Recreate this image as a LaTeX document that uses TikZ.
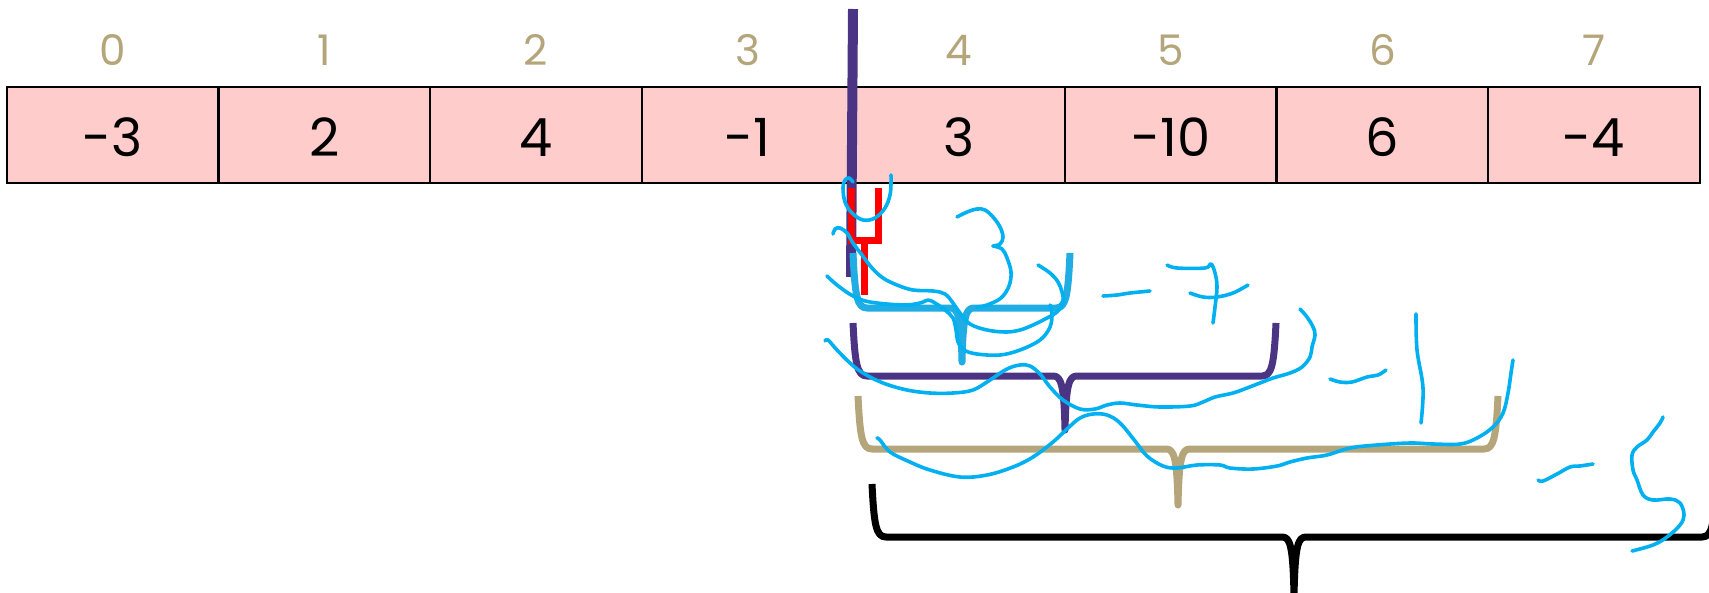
\documentclass[tikz,border=0pt]{standalone}
\usepackage{fontspec}
\setmainfont{Poppins}
\definecolor{cellpink}{HTML}{FFCCCC}
\definecolor{idxtan}{HTML}{B5A57A}
\definecolor{midpurple}{HTML}{4B3484}
\definecolor{bracecyan}{HTML}{1FADE3}
\definecolor{pencyan}{HTML}{00B0F0}
\definecolor{markred}{HTML}{FF0000}

% upward-opening curly brace: style, left x, right x, arm top y, bar y, tip x, tip y
\newcommand{\curlyup}[7]{%
  \draw[#1] (#2,#4) .. controls (#2+2,#5-12) and (#2+4,#5) .. (#2+14,#5)
    -- (#6-12,#5) .. controls (#6-4,#5) and (#6-1,#5+8) .. (#6,#7)
    .. controls (#6+1,#5+8) and (#6+4,#5) .. (#6+12,#5)
    -- (#3-14,#5) .. controls (#3-4,#5) and (#3-2,#5-12) .. (#3,#4);}

\tikzset{
  cell/.style={draw=black, line width=0.045cm, fill=cellpink, minimum width=4.232cm,
    minimum height=1.92cm, inner sep=0pt},
  val/.style={inner sep=0pt, font=\fontsize{30}{30}\selectfont},
  idx/.style={text=idxtan, inner sep=0pt, font=\fontsize{24}{24}\selectfont},
  bracestroke/.style={line width=0.14cm, line join=round},
  pen/.style={pencyan, line width=0.072cm, line cap=round, line join=round},
}

\begin{document}
\begin{tikzpicture}[x=0.02cm, y=-0.02cm]
\path[use as bounding box] (0,0) rectangle (1709,592);
\clip (0,0) rectangle (1709,592);

% the array with its indices
\foreach \i/\v in {0/-3, 1/2, 2/4, 3/-1, 4/3, 5/-10, 6/6, 7/-4} {
  \node[cell] (c\i) at ({7+211.6*(\i+0.5)},135) {};
  \node[val] (v\i) at ({7+211.6*(\i+0.5)},137.5) {\v};
  \node[idx] (i\i) at ({7+211.6*(\i+0.5)},50) {\i};
}

% split line between indices 3 and 4
\draw[midpurple, line width=0.2cm] (853,9) -- (851,277);

% single element bracket
\draw[markred, line width=0.14cm] (851,188) -- (851,240) -- (878,240) -- (878,188);
\draw[markred, line width=0.14cm] (864,240) -- (864,295);

% growing brackets to the right
\curlyup{bracestroke, bracecyan}{853}{1070}{253}{308}{962}{362}
\curlyup{bracestroke, midpurple}{853}{1276}{323}{376}{1065}{430}
\curlyup{bracestroke, idxtan}{858}{1498}{396}{449}{1178}{505}
\curlyup{bracestroke, black}{872}{1716}{484}{537}{1294}{596}

% handwritten notes
\draw[pen] plot[smooth, tension=0.6] coordinates {(853,182) (849,178) (845,180) (843,188) (845,202) (852,213) (863,220) (875,218) (885,208) (890,195) (891,183) (891,175)};
\draw[pen] plot[smooth, tension=0.6] coordinates {(957,217) (967,212) (977,209) (985,210) (993,217) (1000,227) (1003,237) (1000,244) (993,246)};
\draw[pen] plot[smooth, tension=0.6] coordinates {(993,246) (1002,249) (1007,258) (1011,272) (1009,286) (1001,298) (987,305) (977,307)};
\draw[pen] plot[smooth, tension=0.6] coordinates {(833,234) (835,229) (840,228) (847,233) (853,243) (862,255) (872,268) (883,278) (897,285) (913,290) (933,291) (945,294) (953,303) (960,313) (970,324) (987,330) (1006,332) (1020,330) (1033,325) (1047,318) (1057,312) (1063,302) (1062,292) (1058,282) (1050,273) (1038,265)};
\draw[pen] plot[smooth, tension=0.6] coordinates {(827,276) (837,285) (853,296) (870,302) (903,305) (920,303) (928,300) (935,303) (945,310) (953,318) (956,330) (958,342) (964,350) (977,354) (1000,355) (1020,350) (1040,340) (1050,327) (1052,313) (1050,305)};
% -7
\draw[pen] plot[smooth, tension=0.6] coordinates {(1103,296) (1117,295) (1130,293) (1150,291)};
\draw[pen] plot[smooth, tension=0.6] coordinates {(1167,265) (1177,268) (1205,268) (1211,264) (1215,273) (1217,287) (1215,307) (1213,323)};
\draw[pen] plot[smooth, tension=0.6] coordinates {(1190,293) (1203,297) (1217,297) (1233,293) (1248,285)};
\draw[pen] plot[smooth, tension=0.6] coordinates {(825,341) (828,340) (837,350) (850,363) (863,373) (883,383) (907,390) (930,393) (953,393) (973,390) (990,380) (1007,369) (1020,365) (1030,366) (1040,374) (1050,387) (1063,400) (1080,409) (1095,409) (1107,405) (1120,403) (1137,405) (1160,407) (1190,406) (1203,402) (1215,397) (1233,393) (1247,388) (1260,383) (1273,378) (1290,373) (1302,367) (1310,357) (1312,347) (1315,335) (1313,327) (1307,317) (1300,309)};
% -1
\draw[pen] plot[smooth, tension=0.6] coordinates {(1330,379) (1340,382) (1352,382) (1367,377) (1378,375) (1386,370)};
\draw[pen] plot[smooth, tension=0.6] coordinates {(1416,314) (1417,350) (1423,388) (1421,423)};
\draw[pen] plot[smooth, tension=0.6] coordinates {(877,438) (880,440) (890,452) (910,462) (930,470) (960,477) (987,475) (1013,467) (1033,457) (1053,442) (1068,428) (1080,418) (1093,414) (1107,415) (1120,423) (1135,441) (1147,456) (1163,466) (1177,468) (1197,465) (1220,465) (1230,468) (1253,469) (1277,466) (1290,462) (1307,458) (1327,455) (1350,448) (1377,445) (1410,443) (1433,444) (1460,444) (1477,438) (1493,427) (1503,413) (1508,393) (1511,373) (1513,360)};
% -5
\draw[pen] plot[smooth, tension=0.6] coordinates {(1538,480) (1543,481) (1557,474) (1570,467) (1580,466) (1593,464)};
\draw[pen] plot[smooth, tension=0.6] coordinates {(1663,417) (1660,423) (1653,432) (1647,440) (1637,447) (1632,455) (1633,470) (1637,480) (1643,495) (1653,500) (1670,499) (1680,503) (1684,515) (1680,525) (1667,537) (1653,545) (1632,551)};
\end{tikzpicture}
\end{document}
